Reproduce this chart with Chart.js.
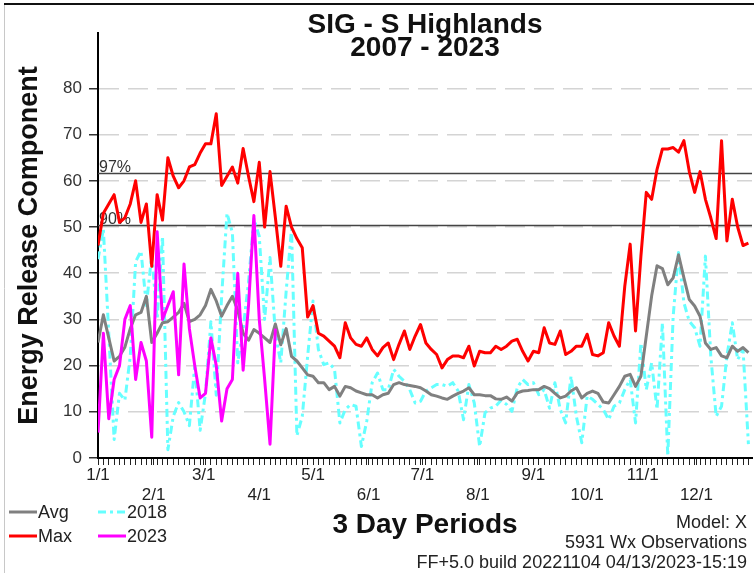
<!DOCTYPE html>
<html>
<head>
<meta charset="utf-8">
<script src="https://cdn.jsdelivr.net/npm/chart.js@4.4.1/dist/chart.umd.min.js"></script>
<style>
  html, body { margin: 0; padding: 0; background: #fff; }
</style>
</head>
<body>
<canvas id="ercChart" width="754" height="573"></canvas>
<script>
const FONT = '"Liberation Sans", Arial, sans-serif';

// x axis: day of year, one point per 3 day period
const PERIOD_DAYS = 3;
const monthLabels = ["1/1", "2/1", "3/1", "4/1", "5/1", "6/1", "7/1", "8/1", "9/1", "10/1", "11/1", "12/1"];
const monthStartDays = [0, 31, 59, 90, 120, 151, 181, 212, 243, 273, 304, 334];
const yTickValues = [0, 10, 20, 30, 40, 50, 60, 70, 80];
const percentileLabels = ["97%", "90%"];
const percentileValues = [61.7, 50.4];

const titleLines = ["SIG - S Highlands", "2007 - 2023"];
const yTitle = "Energy Release Component";
const xTitle = "3 Day Periods";
const noteLines = ["Model: X", "5931 Wx Observations", "FF+5.0 build 20221104 04/13/2023-15:19"];

const maxValues = [
  46, 53, 55, 57, 51, 52, 55, 60, 51, 55,
  41.5, 57, 51.5, 65, 61, 58.5, 60, 63, 63.5, 66,
  68, 68, 74.5, 59, 61, 63, 59.5, 67, 61, 55.5,
  64, 50, 62, 52, 41.5, 54.5, 50, 47.5, 45.5, 30.5,
  33, 27, 26.4, 25.3, 24.2, 21.7, 29.3, 26, 24.6, 24.2,
  26, 23.5, 22.1, 23.9, 24.9, 21.3, 24.6, 27.5, 23.5, 26.4,
  28.9, 24.9, 23.5, 22.4, 19.5, 21.3, 22.1, 22.1, 21.7, 24.2,
  19.9, 23.1, 22.8, 22.8, 24.2, 23.5, 24.2, 25.3, 25.7, 23.1,
  21, 23.1, 22.8, 28.2, 24.9, 24.6, 27.5, 22.4, 23.1, 24.2,
  24.2, 26.8, 22.4, 22.1, 22.8, 29.3, 26.4, 24.2, 37.2, 46.3,
  27.5, 43.7, 57.5, 56, 62.5, 66.9, 66.9, 67.2, 66.2, 68.7,
  62, 57.5, 62, 56, 52, 47.5, 68.7, 47, 56, 50, 46, 46.5
];

const avgValues = [
  25, 31, 26, 21, 22, 24, 28, 31, 31.5, 35,
  25, 27, 29.3, 29.5, 30.5, 31.5, 33.5, 29.5, 30, 31,
  33, 36.5, 34, 30.7, 33, 35, 32, 27, 25.5, 27.8,
  27, 26, 25, 29, 24.5, 28, 22, 21, 19.5, 18,
  17.7, 16.3, 16.3, 14.8, 15.5, 13.4, 15.5, 15.2, 14.5, 14.1,
  13.7, 13.7, 13, 13.7, 14, 15.9, 16.3, 15.9, 15.7, 15.5,
  15.2, 14.5, 13.7, 13.4, 13, 12.7, 13.4, 14, 14.5, 15.2,
  13.7, 13.7, 13.5, 13.5, 12.8, 12.7, 13.2, 12.3, 14.1, 14.5,
  14.6, 14.8, 14.8, 15.5, 15, 14, 13, 13.4, 14.5, 15.2,
  13, 14, 14.5, 14, 12.1, 11.9, 13.7, 15.5, 17.7, 18.1,
  15.5, 17.7, 26.4, 35.1, 41.6, 41, 37.5, 39, 44, 39,
  34.3, 32.9, 30.7, 24.9, 23.5, 23.9, 22.1, 21.7, 24.2, 23.1, 23.9, 22.8
];

const erc2018 = [
  43, 49.5, 27, 4, 14, 12.5, 22, 42.5, 44.8, 33,
  44, 30, 48, 1.8, 9, 12, 10, 7, 20, 6,
  14, 29.5, 13.6, 35, 53, 48.8, 20.6, 28, 38, 51.8,
  48, 30, 43.4, 27, 20.6, 36, 49.6, 4.8, 9, 22,
  34, 23.5, 20.2, 20.6, 19.2, 7.6, 10.5, 11.6, 11.2, 2.5,
  8, 16.3, 18.4, 14.8, 14.8, 19.2, 17.7, 16.6, 14.8, 11.9,
  12.3, 14.5, 15.2, 15.9, 15.9, 15.5, 16.3, 14.5, 8.3, 15.9,
  11.9, 2.5, 9.8, 10.8, 11.2, 12.5, 11.6, 10.1, 15.2, 17,
  15.9, 16.3, 13.7, 14.8, 10.8, 16.3, 10.5, 7.6, 17.7, 9,
  3.3, 13.4, 12.7, 11.6, 10.5, 8.3, 11.2, 11.9, 14.8, 17,
  7.6, 24.9, 14.8, 20.6, 10.5, 29.3, 0.4, 30.7, 44.5, 33.6,
  29.6, 28.2, 24.2, 43.7, 22.1, 9, 11.2, 22.1, 29.3, 21.3, 23.5, 3
];

// 2023 only runs to early April
const erc2023 = [
  5.5, 27, 8.5, 17, 20, 30, 33, 17, 25, 21,
  4.5, 49, 30, 33, 36, 18, 42, 28, 20, 13,
  14, 26, 20, 8, 15, 17, 40, 19, 33, 52.5,
  30, 17, 3, 28
];

const toPoints = (values) => values.map((v, i) => ({ x: i * PERIOD_DAYS, y: v }));

const xTickDays = () => {
  const days = new Set(monthStartDays);
  for (let d = 0; d <= 365; d += PERIOD_DAYS) days.add(d);
  return Array.from(days).sort((a, b) => a - b);
};

const decorPlugin = {
  id: "decor",
  beforeDraw(chart) {
    const { ctx, width, height } = chart;
    ctx.save();
    ctx.fillStyle = "#fff";
    ctx.fillRect(0, 0, width, height);
    ctx.strokeStyle = "#c8c8c8";
    ctx.lineWidth = 1;
    ctx.beginPath();
    ctx.moveTo(4.5, 4);
    ctx.lineTo(4.5, height);
    ctx.stroke();
    ctx.strokeStyle = "#111";
    ctx.lineWidth = 2;
    ctx.beginPath();
    ctx.moveTo(4, 4);
    ctx.lineTo(width, 4);
    ctx.stroke();
    ctx.restore();
  },
  beforeDatasetsDraw(chart) {
    const { ctx, chartArea, scales } = chart;
    ctx.save();
    ctx.strokeStyle = "#444";
    ctx.lineWidth = 1.5;
    ctx.fillStyle = "#333";
    ctx.font = "16px " + FONT;
    ctx.textAlign = "left";
    ctx.textBaseline = "alphabetic";
    percentileValues.forEach((value, i) => {
      const y = Math.round(scales.y.getPixelForValue(value)) + 0.5;
      ctx.beginPath();
      ctx.moveTo(chartArea.left, y);
      ctx.lineTo(chartArea.right, y);
      ctx.stroke();
      ctx.fillText(percentileLabels[i], chartArea.left + 1, y - 2);
    });
    ctx.restore();
  },
  afterDraw(chart) {
    const { ctx, chartArea } = chart;
    const midX = (chartArea.left + chartArea.right) / 2;
    ctx.save();
    ctx.fillStyle = "#111";
    ctx.textAlign = "center";
    ctx.textBaseline = "middle";
    ctx.font = "bold 28px " + FONT;
    ctx.fillText(titleLines[0], midX, 25);
    ctx.fillText(titleLines[1], midX, 48);
    ctx.fillText(xTitle, midX, 525);

    ctx.save();
    ctx.translate(30, (chartArea.top + chartArea.bottom) / 2);
    ctx.rotate(-Math.PI / 2);
    ctx.font = "bold 27px " + FONT;
    ctx.fillText(yTitle, 0, 0);
    ctx.restore();

    // footnotes
    ctx.font = "18px " + FONT;
    ctx.fillStyle = "#222";
    ctx.textAlign = "right";
    noteLines.forEach((line, i) => ctx.fillText(line, 747, 523 + i * 20));

    // legend, two columns
    const order = ["Avg", "Max", "2018", "2023"];
    ctx.textAlign = "left";
    order.forEach((name, i) => {
      const ds = chart.data.datasets.find((d) => d.label === name);
      const col = Math.floor(i / 2);
      const row = i % 2;
      const x0 = col === 0 ? 9 : 98;
      const y = 512 + row * 24;
      ctx.strokeStyle = ds.borderColor;
      ctx.lineWidth = 3;
      ctx.setLineDash(ds.borderDash || []);
      ctx.beginPath();
      ctx.moveTo(x0, y);
      ctx.lineTo(x0 + 28, y);
      ctx.stroke();
      ctx.setLineDash([]);
      ctx.fillStyle = "#222";
      ctx.fillText(name, x0 + 29, y + 1);
    });
    ctx.restore();
  }
};

const ctx = document.getElementById("ercChart").getContext("2d");
const ercChart = new Chart(ctx, {
  type: "line",
  data: {
    datasets: [
      { label: "2023", data: toPoints(erc2023), borderColor: "#ff00ff", borderWidth: 3 },
      { label: "Max", data: toPoints(maxValues), borderColor: "#ff0000", borderWidth: 3 },
      { label: "Avg", data: toPoints(avgValues), borderColor: "#808080", borderWidth: 3 },
      { label: "2018", data: toPoints(erc2018), borderColor: "#66ffff", borderWidth: 3, borderDash: [8, 4, 3, 4] },
    ],
  },
  options: {
    responsive: false,
    animation: false,
    devicePixelRatio: 1,
    layout: { padding: { top: 33, right: 2, left: 0, bottom: 0 } },
    elements: {
      point: { radius: 0 },
      line: { tension: 0, borderJoinStyle: "round" },
    },
    plugins: {
      legend: { display: false },
      tooltip: { enabled: false },
      title: { display: false },
    },
    scales: {
      x: {
        type: "linear",
        min: 0,
        max: 365,
        afterBuildTicks: (scale) => {
          scale.ticks = xTickDays().map((v) => ({ value: v }));
        },
        afterFit: (scale) => {
          scale.height = 115;
        },
        ticks: {
          autoSkip: false,
          maxRotation: 0,
          minRotation: 0,
          padding: 0,
          color: "#222",
          font: { family: FONT, size: 17 },
          callback: (value) => {
            const idx = monthStartDays.indexOf(value);
            if (idx < 0) return "";
            return idx % 2 === 0 ? monthLabels[idx] : ["", monthLabels[idx]];
          },
        },
        grid: { drawOnChartArea: false, tickLength: 7, tickColor: "#222", tickWidth: 1 },
        border: { color: "#000", width: 2 },
      },
      y: {
        min: 0,
        max: 92,
        afterBuildTicks: (scale) => {
          scale.ticks = yTickValues.map((v) => ({ value: v }));
        },
        afterFit: (scale) => {
          scale.width = 98;
        },
        ticks: {
          padding: 7,
          color: "#333",
          font: { family: FONT, size: 17 },
        },
        grid: {
          color: (c) => (c.tick && c.tick.value === 0 ? "rgba(0,0,0,0)" : "#d4d4d4"),
          lineWidth: 1.5,
          tickColor: "#333",
          tickLength: 9,
          tickWidth: 1.5,
          tickBorderDash: [],
        },
        border: { color: "#000", width: 2, dash: [20, 9] },
      },
    },
  },
  plugins: [decorPlugin],
});
</script>
</body>
</html>
